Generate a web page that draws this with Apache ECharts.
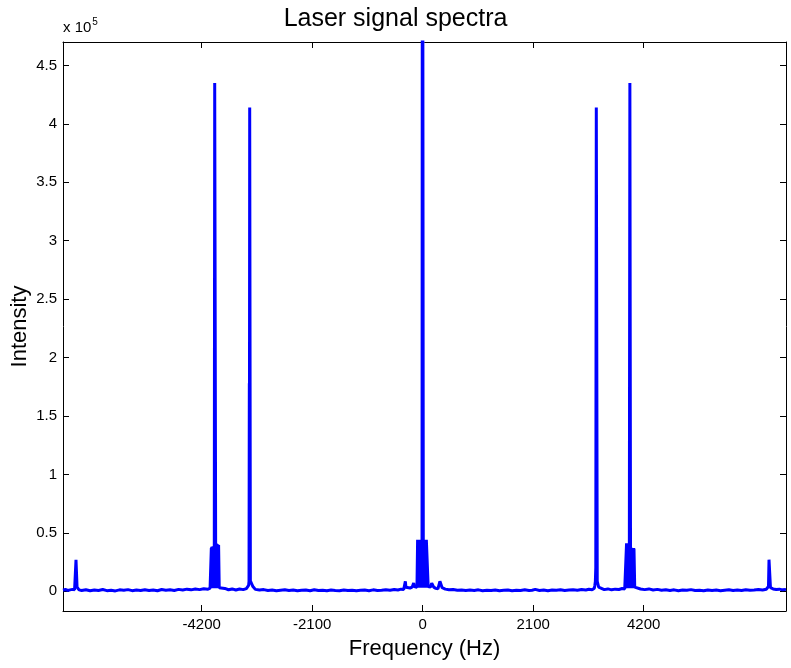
<!DOCTYPE html>
<html>
<head>
<meta charset="utf-8">
<script src="https://cdn.jsdelivr.net/npm/echarts@6/dist/echarts.min.js"></script>
<style>html,body{margin:0;padding:0;background:#fff;}#chart{width:791px;height:668px;}</style>
</head>
<body>
<div id="chart"></div>
<script>
// Frequency (Hz) of each sample
const freqHz = [
 -6835,-6790,-6745,-6700,-6655,-6615,
 -6598,-6588,-6578,-6568,-6555,-6530,
 -6480,-6400,-6320,-6240,-6160,-6080,-6000,-5920,-5840,-5760,-5680,-5600,-5520,-5440,-5360,-5280,-5200,-5120,-5040,-4960,-4880,-4800,-4720,-4640,-4560,-4480,-4400,-4320,-4240,-4160,-4080,
 -4040,-4022,-4016,-4012,-4008,-4004,-4000,-3996,-3992,-3988,-3984,-3980,-3976,-3972,-3968,-3964,-3960,-3952,-3942,-3934,-3930,-3926,-3922,-3918,-3914,-3910,-3906,-3902,-3898,-3894,-3890,-3886,-3882,-3878,-3866,-3850,
 -3830,-3760,-3690,-3620,-3550,-3480,-3410,-3350,-3320,
 -3308,-3300,-3294,-3291,-3287,-3280,-3274,-3262,-3250,-3238,-3226,-3212,
 -3180,-3100,-3020,-2940,-2860,-2780,-2700,-2620,-2540,-2460,-2380,-2300,-2220,-2140,-2060,-1980,-1900,-1820,-1740,-1660,-1580,-1500,-1420,-1340,-1260,-1180,-1100,-1020,-940,-860,-780,-700,-620,-540,-470,-410,
 -360,-340,-329,-318,-280,-240,-200,-180,-171,-160,-130,-108,-96,-90,-84,-78,-72,-66,-60,-54,-48,-42,-36,-30,-24,-18,-12,-4,4,12,18,24,30,36,42,48,54,60,66,70,80,105,130,150,160,172,210,250,290,306,317,328,370,
 430,500,580,660,740,820,900,980,1060,1140,1220,1300,1380,1460,1540,1620,1700,1780,1860,1940,2020,2080,2140,2220,2300,2380,2460,2540,2620,2700,2780,2860,2940,3020,3100,3160,3220,3250,
 3262,3272,3282,3290,3300,3308,3318,3330,3345,
 3380,3450,3520,3590,3660,3730,3790,3840,3860,
 3871,3875,3879,3883,3887,3891,3895,3899,3903,3907,3911,3915,3920,3928,3938,3946,3950,3954,3958,3962,3966,3970,3974,3978,3982,3986,3990,3994,3998,4002,4006,4010,4016,4030,
 4060,4140,4220,4300,4380,4460,4540,4620,4700,4780,4860,4940,5020,5100,5180,5260,5340,5420,5500,5580,5660,5740,5820,5900,5980,6060,6140,6220,6300,6380,6460,6530,
 6555,6566,6572,6582,6592,6610,
 6660,6720,6780,6840,6905
];
// Intensity at each sample
const intensity = [
 900,1500,700,1200,1600,1300,
 2000,27000,27000,3500,2600,1200,
 700,1300,400,1100,600,1500,500,900,300,1200,800,1400,500,1000,700,1300,600,1100,400,1500,900,1200,700,1600,1000,1800,1200,1900,1400,2200,1700,
 2600,3000,37000,3000,38000,2500,37500,3000,38000,2500,38500,3000,38000,2500,38500,3000,39000,435000,435000,41000,2500,41000,3000,40500,2500,40500,3000,40000,2500,40000,3000,39500,2500,39500,3000,2200,
 1800,2400,1300,2000,1100,1900,1400,2300,2600,
 5000,8500,178000,158000,414000,414000,9000,8000,8500,7500,4000,2500,
 1600,1000,1400,700,1100,500,900,1200,600,1000,400,800,1100,500,1300,600,900,400,1000,700,500,1100,600,900,400,800,1000,500,1200,700,900,1300,800,1500,1100,1800,
 1500,3000,8500,3500,2000,2800,3500,5000,7000,4000,3000,3500,44000,3000,44000,3000,44000,3000,44000,3000,44000,3000,44000,3000,44000,3000,44000,900000,900000,44000,3000,44000,3000,44000,3000,44000,3000,44000,3000,44000,44000,4000,3000,3500,5000,7000,3500,2500,2000,2500,3500,8500,3000,1800,
 1200,1500,800,1100,600,1000,700,1200,500,900,600,1100,400,800,1000,500,900,700,1200,600,900,1600,700,1000,500,1100,800,1200,600,1000,1300,900,1500,1100,1700,1300,2200,2600,
 5000,8500,20000,414000,414000,8500,8000,3500,2500,
 1400,2000,1200,1800,1500,2300,1900,2600,3000,
 41000,3000,40500,2500,41000,3000,40500,2500,41000,3000,40500,2500,41000,435000,435000,37000,2500,37500,3000,37000,2500,37000,3000,36500,2500,37000,3000,36500,2500,37000,3000,36500,3500,2500,
 1900,1400,2000,1100,1600,900,1300,700,1200,500,1000,800,1400,600,900,400,1100,700,1000,500,900,1200,600,1000,700,1300,800,1100,1500,1000,1700,1900,
 2500,4000,27000,27000,3000,2000,
 1500,1800,1200,1600,1300
];
const xTicks = [-4200, -2100, 0, 2100, 4200];
const yTicks = [0, 50000, 100000, 150000, 200000, 250000, 300000, 350000, 400000, 450000];

const FONT = 'Liberation Sans, Arial, sans-serif';
const chart = echarts.init(document.getElementById('chart'));
const data = freqHz.map((f, i) => [f, intensity[i]]);

const baseX = {
  type: 'value', min: -6835, max: 6905,
  splitLine: {show: false},
  axisLine: {show: true, onZero: false, lineStyle: {color: '#000', width: 1}},
  axisTick: {show: true, inside: true, length: 6, customValues: xTicks, lineStyle: {color: '#000'}},
};
const baseY = {
  type: 'value', min: -16900, max: 470000,
  splitLine: {show: false},
  axisLine: {show: true, onZero: false, lineStyle: {color: '#000', width: 1}},
  axisTick: {show: true, inside: true, length: 6, customValues: yTicks, lineStyle: {color: '#000'}},
};

chart.setOption({
  animation: false,
  backgroundColor: '#fff',
  title: {
    text: 'Laser signal spectra', left: 'center', top: 2,
    textStyle: {fontFamily: FONT, fontSize: 25, fontWeight: 'normal', color: '#000'}
  },
  grid: {left: 63, right: 5, top: 42, bottom: 57, show: false, outerBoundsMode: 'none', containLabel: false},
  xAxis: [
    Object.assign({}, baseX, {
      position: 'bottom',
      axisLabel: {show: true, customValues: xTicks, margin: 6, fontFamily: FONT, fontSize: 15, color: '#000',
        formatter: v => String(v)},
      name: 'Frequency (Hz)', nameLocation: 'middle', nameGap: 27, nameMoveOverlap: false,
      nameTextStyle: {fontFamily: FONT, fontSize: 22, color: '#000'}
    }),
    Object.assign({}, baseX, {position: 'top', axisLabel: {show: false}})
  ],
  yAxis: [
    Object.assign({}, baseY, {
      position: 'left',
      axisLabel: {show: true, customValues: yTicks, margin: 6, fontFamily: FONT, fontSize: 15, color: '#000',
        formatter: v => String(Math.round(v / 10000) / 10)},
      name: 'Intensity', nameLocation: 'middle', nameGap: 32, nameMoveOverlap: false,
      nameTextStyle: {fontFamily: FONT, fontSize: 22, color: '#000'}
    }),
    Object.assign({}, baseY, {position: 'right', axisLabel: {show: false}})
  ],
  graphic: [{
    type: 'text', left: 63, top: 17,
    style: {
      text: '{a|x 10}{b|5}',
      rich: {
        a: {fontFamily: FONT, fontSize: 15, fill: '#000', verticalAlign: 'bottom', lineHeight: 18},
        b: {fontFamily: FONT, fontSize: 10, fill: '#000', verticalAlign: 'top', lineHeight: 18, padding: [0, 0, 10, 1]}
      }
    }
  }],
  series: [{
    type: 'line', data: data, xAxisIndex: 0, yAxisIndex: 0,
    showSymbol: false, symbol: 'none', clip: true, sampling: null,
    lineStyle: {color: '#0000ff', width: 3},
    itemStyle: {color: '#0000ff'}
  }]
});
</script>
</body>
</html>
